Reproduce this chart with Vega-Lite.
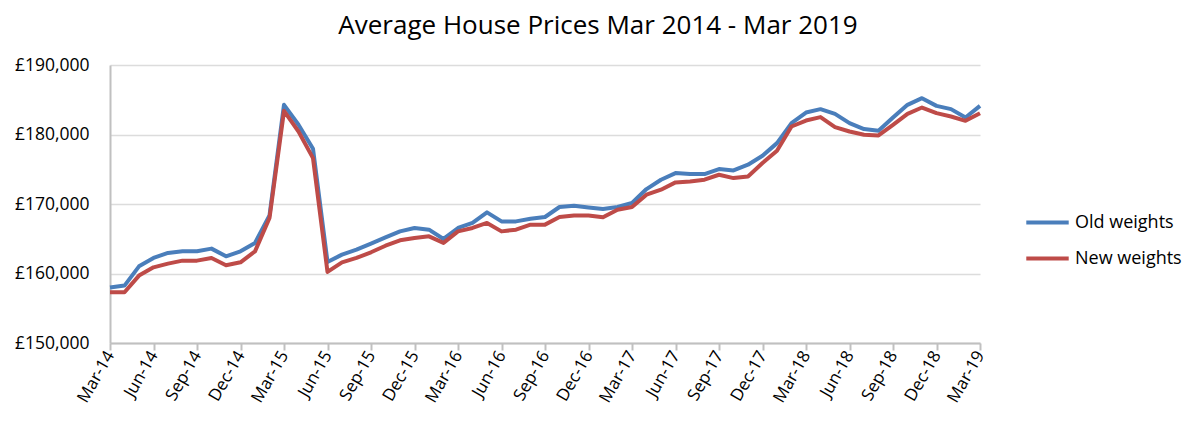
{
  "$schema": "https://vega.github.io/schema/vega-lite/v6.json",
  "width": 870,
  "height": 278,
  "autosize": {"type": "none"},
  "padding": {"left": 110, "top": 65, "right": 209, "bottom": 80},
  "background": "white",
  "title": {
    "text": "Average House Prices Mar 2014 - Mar 2019",
    "font": "Open Sans",
    "fontSize": 26,
    "fontWeight": "normal",
    "color": "#000000",
    "anchor": "middle",
    "dx": 53,
    "offset": 17
  },
  "datasets": {
    "prices": [
      {"m": "Mar-14", "old": 158000, "new": 157300},
      {"m": "Apr-14", "old": 158260, "new": 157300},
      {"m": "May-14", "old": 161030, "new": 159700},
      {"m": "Jun-14", "old": 162240, "new": 160890},
      {"m": "Jul-14", "old": 162960, "new": 161420},
      {"m": "Aug-14", "old": 163190, "new": 161850},
      {"m": "Sep-14", "old": 163190, "new": 161850},
      {"m": "Oct-14", "old": 163580, "new": 162240},
      {"m": "Nov-14", "old": 162470, "new": 161180},
      {"m": "Dec-14", "old": 163190, "new": 161610},
      {"m": "Jan-15", "old": 164400, "new": 163190},
      {"m": "Feb-15", "old": 168360, "new": 167990},
      {"m": "Mar-15", "old": 184270, "new": 183400},
      {"m": "Apr-15", "old": 181400, "new": 180430},
      {"m": "May-15", "old": 177950, "new": 176600},
      {"m": "Jun-15", "old": 161660, "new": 160230},
      {"m": "Jul-15", "old": 162720, "new": 161610},
      {"m": "Aug-15", "old": 163430, "new": 162240},
      {"m": "Sep-15", "old": 164300, "new": 163050},
      {"m": "Oct-15", "old": 165200, "new": 164000},
      {"m": "Nov-15", "old": 166060, "new": 164770},
      {"m": "Dec-15", "old": 166550, "new": 165110},
      {"m": "Jan-16", "old": 166310, "new": 165350},
      {"m": "Feb-16", "old": 164970, "new": 164400},
      {"m": "Mar-16", "old": 166550, "new": 166060},
      {"m": "Apr-16", "old": 167270, "new": 166550},
      {"m": "May-16", "old": 168800, "new": 167270},
      {"m": "Jun-16", "old": 167500, "new": 166060},
      {"m": "Jul-16", "old": 167500, "new": 166310},
      {"m": "Aug-16", "old": 167890, "new": 167030},
      {"m": "Sep-16", "old": 168130, "new": 167030},
      {"m": "Oct-16", "old": 169570, "new": 168130},
      {"m": "Nov-16", "old": 169760, "new": 168360},
      {"m": "Dec-16", "old": 169510, "new": 168360},
      {"m": "Jan-17", "old": 169280, "new": 168080},
      {"m": "Feb-17", "old": 169570, "new": 169180},
      {"m": "Mar-17", "old": 170140, "new": 169570},
      {"m": "Apr-17", "old": 172150, "new": 171340},
      {"m": "May-17", "old": 173490, "new": 172060},
      {"m": "Jun-17", "old": 174450, "new": 173110},
      {"m": "Jul-17", "old": 174300, "new": 173250},
      {"m": "Aug-17", "old": 174300, "new": 173500},
      {"m": "Sep-17", "old": 175030, "new": 174210},
      {"m": "Oct-17", "old": 174830, "new": 173730},
      {"m": "Nov-17", "old": 175650, "new": 173970},
      {"m": "Dec-17", "old": 176940, "new": 175890},
      {"m": "Jan-18", "old": 178760, "new": 177660},
      {"m": "Feb-18", "old": 181640, "new": 181150},
      {"m": "Mar-18", "old": 183160, "new": 182010},
      {"m": "Apr-18", "old": 183650, "new": 182500},
      {"m": "May-18", "old": 182970, "new": 181060},
      {"m": "Jun-18", "old": 181640, "new": 180430},
      {"m": "Jul-18", "old": 180780, "new": 179960},
      {"m": "Aug-18", "old": 180530, "new": 179860},
      {"m": "Sep-18", "old": 182440, "new": 181390},
      {"m": "Oct-18", "old": 184270, "new": 182970},
      {"m": "Nov-18", "old": 185230, "new": 183880},
      {"m": "Dec-18", "old": 184120, "new": 183070},
      {"m": "Jan-19", "old": 183650, "new": 182590},
      {"m": "Feb-19", "old": 182440, "new": 181970},
      {"m": "Mar-19", "old": 184120, "new": 183070}
    ]
  },
  "data": {"name": "prices"},
  "transform": [
    {"fold": ["old", "new"], "as": ["series", "price"]},
    {"calculate": "datum.series === 'old' ? 'Old weights' : 'New weights'", "as": "Series"}
  ],
  "mark": {"type": "line", "strokeWidth": 4, "strokeJoin": "round"},
  "encoding": {
    "x": {
      "field": "m",
      "type": "ordinal",
      "sort": null,
      "scale": {"type": "point", "padding": 0},
      "axis": {
        "title": null,
        "values": ["Mar-14","Jun-14","Sep-14","Dec-14","Mar-15","Jun-15","Sep-15","Dec-15","Mar-16","Jun-16","Sep-16","Dec-16","Mar-17","Jun-17","Sep-17","Dec-17","Mar-18","Jun-18","Sep-18","Dec-18","Mar-19"],
        "labelAngle": -60,
        "labelAlign": "right",
        "labelBaseline": "middle",
        "labelFont": "Open Sans",
        "labelFontSize": 17,
        "labelColor": "#000000",
        "labelPadding": 2,
        "domainColor": "#c0c0c0",
        "domainWidth": 2,
        "tickColor": "#c0c0c0",
        "tickWidth": 2,
        "tickSize": 7,
        "grid": false
      }
    },
    "y": {
      "field": "price",
      "type": "quantitative",
      "scale": {"domain": [150000, 190000], "nice": false, "zero": false},
      "axis": {
        "title": null,
        "values": [150000, 160000, 170000, 180000, 190000],
        "labelExpr": "'£' + format(datum.value, ',')",
        "labelFont": "Open Sans",
        "labelFontSize": 17.5,
        "labelColor": "#000000",
        "labelPadding": 21,
        "domainColor": "#c0c0c0",
        "domainWidth": 2,
        "ticks": false,
        "gridColor": "#dcdcdc",
        "gridWidth": 1.5
      }
    },
    "color": {
      "field": "Series",
      "type": "nominal",
      "sort": ["Old weights", "New weights"],
      "scale": {"domain": ["Old weights", "New weights"], "range": ["#4a7ebb", "#be4b48"]},
      "legend": {
        "title": null,
        "orient": "none",
        "legendX": 914,
        "legendY": 134,
        "symbolType": "stroke",
        "symbolStrokeWidth": 4,
        "symbolSize": 1800,
        "labelFont": "Open Sans",
        "labelFontSize": 18,
        "labelColor": "#000000",
        "rowPadding": 3,
        "labelOffset": 4
      }
    }
  },
  "config": {"view": {"stroke": null}}
}
